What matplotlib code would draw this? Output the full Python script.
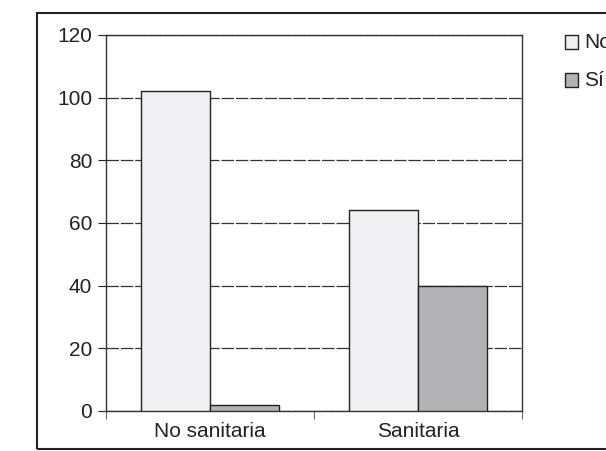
import matplotlib.pyplot as plt
from matplotlib.patches import Rectangle
import numpy as np

categories = ['No sanitaria', 'Sanitaria']
serie_no = [102, 64]
serie_si = [2, 40]
labels = ['No', 'Sí']

plt.rcParams['font.family'] = ['Liberation Sans', 'DejaVu Sans']

fig = plt.figure(figsize=(6.06, 4.51), dpi=100)
ax = fig.add_axes([106/606, 1 - 411/451, 416/606, 376/451])

# outer chart frame (runs off right edge like the scan)
fig.patches.append(Rectangle((37/606, 1 - 449/451), 0.99, 436/451,
                             transform=fig.transFigure, fill=False,
                             edgecolor='#222222', linewidth=1.5))

x = np.arange(len(categories))
w = 0.33
b1 = ax.bar(x - w/2, serie_no, w, color='#f0f0f2', edgecolor='#222222', linewidth=1, label=labels[0], zorder=3)
b2 = ax.bar(x + w/2, serie_si, w, color='#b3b3b6', edgecolor='#222222', linewidth=1, label=labels[1], zorder=3)

ax.set_xlim(-0.5, 1.5)
ax.set_ylim(0, 120)
ax.set_yticks(range(0, 121, 20))
ax.yaxis.grid(True, linestyle=(0, (10, 1.5)), color='#333333', linewidth=0.9)
ax.set_axisbelow(True)

ax.set_xticks(x)
ax.set_xticklabels(categories, fontsize=15, color='#222222')
ax.tick_params(axis='x', length=0, pad=8)
ax.set_xticks([-0.5, 0.5, 1.5], minor=True)
ax.tick_params(axis='x', which='minor', length=6, direction='out', color='#444444')
ax.tick_params(axis='y', length=6, direction='out', labelsize=15, colors='#222222', pad=4)

for s in ax.spines.values():
    s.set_color('#333333')
    s.set_linewidth(1)

# legend drawn as in the scan: squares with labels cut by the image edge
fig.patches.append(Rectangle((565/606, 1 - 49/451), 13/606, 14/451, transform=fig.transFigure,
                             facecolor='#f0f0f2', edgecolor='#222222', linewidth=1))
fig.patches.append(Rectangle((565/606, 1 - 87/451), 13/606, 14/451, transform=fig.transFigure,
                             facecolor='#b3b3b6', edgecolor='#222222', linewidth=1))
fig.text(584/606, 1 - 42/451, labels[0], fontsize=15, va='center', ha='left', color='#222222')
fig.text(584/606, 1 - 80/451, labels[1], fontsize=15, va='center', ha='left', color='#222222')

fig.savefig('out.png', dpi=100)
